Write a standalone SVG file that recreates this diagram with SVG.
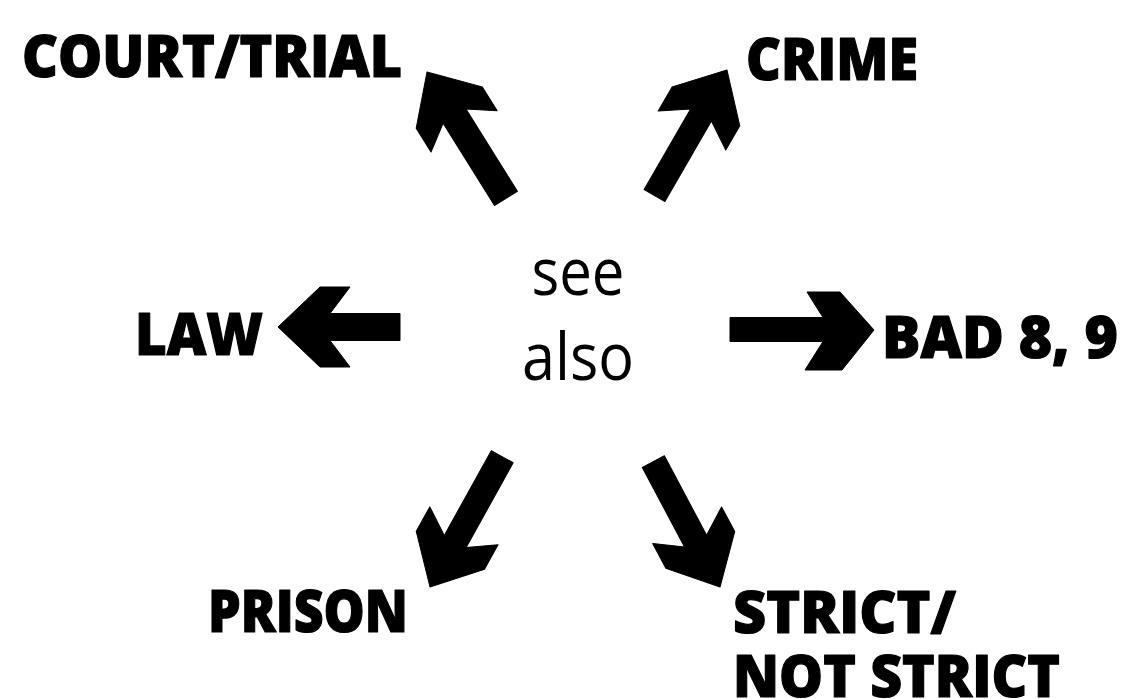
<svg xmlns="http://www.w3.org/2000/svg" width="1128" height="699" viewBox="0 0 1128 699">
<style>
.lbl{font-family:"Open Sans","Liberation Sans",sans-serif;font-weight:800;font-size:58px;fill:#000;stroke:#000;stroke-width:1.2px;stroke-linejoin:round}
.ctr{font-family:"Open Sans","Liberation Sans",sans-serif;font-weight:400;font-size:66px;fill:#000;text-anchor:middle}
.arr{fill:#000;stroke:#000;stroke-width:1;stroke-linejoin:round}
</style>
<rect width="1128" height="699" fill="#fff"/>
<g id="connectors">
<path class="arr" transform="translate(278,327) rotate(180)" d="M0,0 L-42,-40 L-72,-40 L-52,-13.5 L-122,-13.5 L-122,13.5 L-52,13.5 L-72,40 L-42,40 Z"/>
<path class="arr" transform="translate(874,330)" d="M0,0 L-34,-38 L-67,-38 L-51,-12.5 L-144,-12.5 L-144,11.5 L-51,11.5 L-69,40 L-32,40 Z"/>
<path class="arr" transform="translate(427,72) rotate(-122)" d="M0,0 L-42,-39 L-70,-39 L-52,-13.5 L-149,-13.5 L-149,13.5 L-52,13.5 L-70,39 L-42,39 Z"/>
<path class="arr" transform="translate(727,70) rotate(-60)" d="M0,0 L-42,-39 L-70,-39 L-52,-12 L-145,-12 L-145,12 L-52,12 L-70,39 L-42,39 Z"/>
<path class="arr" transform="translate(430,587) rotate(119)" d="M0,0 L-42,-39 L-70,-39 L-52,-12.5 L-149,-12.5 L-149,12.5 L-52,12.5 L-70,39 L-42,39 Z"/>
<path class="arr" transform="translate(720,587) rotate(62)" d="M0,0 L-42,-39 L-70,-39 L-52,-12.5 L-142,-12.5 L-142,12.5 L-52,12.5 L-70,39 L-42,39 Z"/>
</g>
<g id="see-also">
<text class="ctr" x="578" y="295" textLength="93" lengthAdjust="spacingAndGlyphs">see</text>
<text class="ctr" x="578" y="380" textLength="112" lengthAdjust="spacingAndGlyphs">also</text>
</g>
<g id="court-trial"><text class="lbl" x="22" y="77" textLength="380" lengthAdjust="spacingAndGlyphs">COURT/TRIAL</text></g>
<g id="crime"><text class="lbl" x="746" y="80" textLength="172" lengthAdjust="spacingAndGlyphs">CRIME</text></g>
<g id="law"><text class="lbl" x="135" y="355" textLength="128" lengthAdjust="spacingAndGlyphs">LAW</text></g>
<g id="bad"><text class="lbl" x="882" y="358" textLength="236" lengthAdjust="spacingAndGlyphs">BAD 8, 9</text></g>
<g id="prison"><text class="lbl" x="208" y="632" textLength="200" lengthAdjust="spacingAndGlyphs">PRISON</text></g>
<g id="strict">
<text class="lbl" x="733" y="633" textLength="223" lengthAdjust="spacingAndGlyphs">STRICT/</text>
<text class="lbl" x="733" y="697" textLength="327" lengthAdjust="spacingAndGlyphs">NOT STRICT</text>
</g>
</svg>
